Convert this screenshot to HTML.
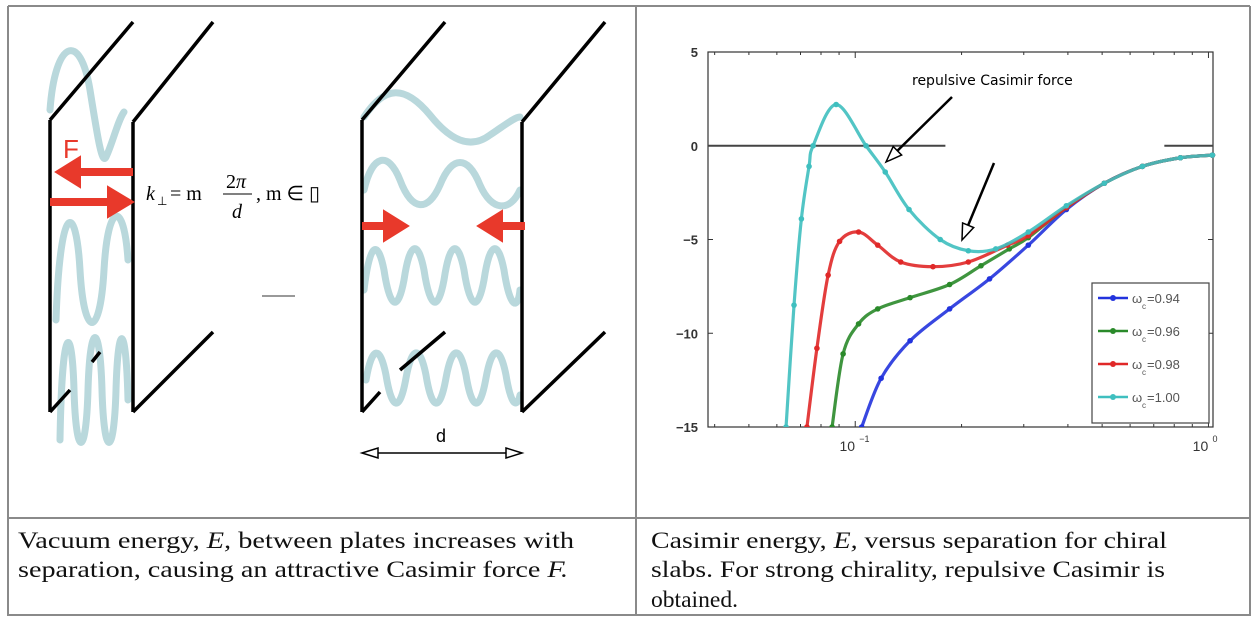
<!DOCTYPE html>
<html><head><meta charset="utf-8"><style>
html,body{margin:0;padding:0;background:#fff;width:1254px;height:630px;overflow:hidden}
svg{display:block}
</style></head><body>
<svg id="root" width="1254" height="630" viewBox="0 0 1254 630" xmlns="http://www.w3.org/2000/svg">
<g stroke="#8a8a8a" stroke-width="2" fill="none">
<path d="M8 6H1250M8 6V616M636 6V616M1250 6V616M8 518H1250M8 615H1250"/>
</g>
<g id="diagram">
<g stroke="#b9d8dc" stroke-width="7" fill="none" stroke-linecap="round">
<path d="M50 110C55 40 80 30 90 90C98 140 102 165 106 157C112 145 118 120 124 112"/>
<path d="M56 320C60 200 76 200 80 270C84 340 100 340 104 270C108 200 124 200 128 260"/>
<path d="M60 440C62 320 72 320 74 390C76 460 86 460 88 390C90 320 100 320 102 390C104 460 114 460 116 390C118 320 126 320 128 400"/>
<path d="M364 117C385 85 405 85 430 115C450 140 470 150 490 135C505 125 515 117 520 117"/>
<path d="M364 190C372 155 388 150 400 180C412 212 428 212 440 185C452 155 468 155 480 185C492 212 510 212 520 190"/>
<path d="M364 290C370 240 378 240 384 270C390 310 398 312 404 280C410 240 418 240 424 270C430 310 438 312 444 280C450 240 458 240 464 270C470 310 478 312 484 280C490 240 498 240 504 270C510 310 518 310 520 290"/>
<path d="M366 380C372 345 380 345 386 375C392 412 400 412 406 378C412 345 420 345 426 375C432 412 440 412 446 378C452 345 460 345 466 375C472 412 480 412 486 378C492 345 500 345 506 375C512 412 518 405 520 395"/>
</g>
<g stroke="#000" stroke-width="3.5" fill="none">
<path d="M50 120V412M133 122V412M50 120L133 22M133 122L213 22M50 412L70 390M133 412L213 332M92 362L100 352"/>
<path d="M362 120V412M522 122V412M362 120L445 22M522 122L605 22M362 412L380 392M400 370L445 332M522 412L605 332"/>
</g>
<g fill="#e8392b" stroke="#e8392b">
<path d="M133 172H72" stroke-width="8"/><path d="M56 172L80 157L80 187Z" stroke-width="2"/>
<path d="M50 202H112" stroke-width="8"/><path d="M133 202L108 187L108 217Z" stroke-width="2"/>
<path d="M362 226H392" stroke-width="8"/><path d="M408 226L384 211L384 241Z" stroke-width="2"/>
<path d="M525 226H495" stroke-width="8"/><path d="M478 226L502 211L502 241Z" stroke-width="2"/>
</g>
<text x="63" y="158" font-family="Liberation Sans, sans-serif" font-size="26" fill="#e8392b">F</text>
<g font-family="Liberation Serif, serif" font-style="italic" font-size="20" fill="#000">
<text x="146" y="200">k</text><text x="157" y="205" font-size="12" font-style="normal">⊥</text>
<text x="170" y="200" font-style="normal">= m</text>
<text x="226" y="188" font-style="normal">2<tspan font-style="italic">π</tspan></text>
<line x1="223" y1="194" x2="252" y2="194" stroke="#000" stroke-width="1"/>
<text x="232" y="218">d</text>
<text x="256" y="200" font-style="normal">,  m ∈ ▯</text>
</g>
<line x1="262" y1="296" x2="295" y2="296" stroke="#999" stroke-width="2"/>
<text x="436" y="442" font-family="Liberation Sans, sans-serif" font-size="18">d</text>
<g stroke="#000" stroke-width="1.5" fill="#fff">
<line x1="368" y1="453" x2="516" y2="453"/>
<path d="M362 453L378 448L378 458Z"/><path d="M522 453L506 448L506 458Z"/>
</g>
</g>
<g id="chart"></g>
<g font-family="Liberation Serif, serif" font-size="23" fill="#111">
<text x="18" y="548" textLength="556" lengthAdjust="spacingAndGlyphs">Vacuum energy, <tspan font-style="italic">E,</tspan> between plates increases with</text>
<text x="18" y="577" textLength="550" lengthAdjust="spacingAndGlyphs">separation, causing an attractive Casimir force <tspan font-style="italic">F.</tspan></text>
<text x="651" y="548" textLength="516" lengthAdjust="spacingAndGlyphs">Casimir energy, <tspan font-style="italic">E,</tspan> versus separation for chiral</text>
<text x="651" y="577" textLength="514" lengthAdjust="spacingAndGlyphs">slabs. For strong chirality, repulsive Casimir is</text>
<text x="651" y="607" textLength="87" lengthAdjust="spacingAndGlyphs">obtained.</text>
</g>
</svg>
<script>
const seriesLabels = ["ω=0.94","ω=0.96","ω=0.98","ω=1.00"];
const seriesColors = ["#2233dd","#2a8a2a","#e02828","#3fbfbf"];
const xBlue = [0.1043,0.1184,0.143,0.185,0.240,0.309,0.396,0.507,0.650,0.833,1.026];
const yBlue = [-15,-12.4,-10.4,-8.7,-7.1,-5.3,-3.4,-2.0,-1.1,-0.64,-0.5];
const xGreen = [0.0860,0.0924,0.1022,0.1158,0.143,0.185,0.227,0.273,0.309,0.396,0.507,0.650,0.833,1.026];
const yGreen = [-15,-11.1,-9.5,-8.7,-8.1,-7.4,-6.4,-5.5,-4.9,-3.3,-2.0,-1.1,-0.64,-0.5];
const xRed = [0.0730,0.0779,0.0838,0.0903,0.1022,0.1158,0.1345,0.166,0.209,0.270,0.309,0.396,0.507,0.650,0.833,1.026];
const yRed = [-15,-10.8,-6.9,-5.1,-4.6,-5.3,-6.2,-6.45,-6.2,-5.3,-4.8,-3.3,-2.0,-1.1,-0.64,-0.5];
const xCyan = [0.0637,0.0671,0.0704,0.0740,0.0760,0.0883,0.1073,0.1216,0.142,0.174,0.209,0.250,0.309,0.396,0.507,0.650,0.833,1.026];
const yCyan = [-15,-8.5,-3.9,-1.1,0,2.2,0,-1.4,-3.4,-5.0,-5.6,-5.5,-4.6,-3.2,-2.0,-1.1,-0.64,-0.5];
const yTicks = [5,0,-5,-10,-15];
const xTicks = [0.1,1];
const xTickLabels = ["10","10"];
const xTickExp = ["−1","0"];
const legendLabels = ["=0.94","=0.96","=0.98","=1.00"];

const NS="http://www.w3.org/2000/svg";
const chart=document.getElementById('chart');
const L=708,R=1213,T=52,B=427;
const xmin=0.0383,xmax=1.03,ymin=-15,ymax=5;
function sx(x){return L+(Math.log10(x)-Math.log10(xmin))/(Math.log10(xmax)-Math.log10(xmin))*(R-L);}
function sy(y){return B-(y-ymin)/(ymax-ymin)*(B-T);}
function mk(tag,attrs,parent){const e=document.createElementNS(NS,tag);for(const k in attrs)e.setAttribute(k,attrs[k]);(parent||chart).appendChild(e);return e;}

const defs=mk('defs',{});
const cp=mk('clipPath',{id:'plotclip'},defs);
mk('rect',{x:L,y:T-4,width:R-L+4,height:B-T+4},cp);

const frame=mk('rect',{x:L,y:T,width:R-L,height:B-T,fill:'none',stroke:'#333','stroke-width':1.2});



yTicks.forEach(v=>{
  const t=mk('text',{x:L-10,y:sy(v)+5,'text-anchor':'end','font-family':'Liberation Sans, sans-serif','font-size':13,'font-weight':'bold',fill:'#333'});
  t.textContent=String(v).replace('-','−');
  
  
  mk('line',{x1:L,x2:L+5,y1:sy(v),y2:sy(v),stroke:'#333'});
  mk('line',{x1:R,x2:R-5,y1:sy(v),y2:sy(v),stroke:'#333'});
});
for(let d=-2;d<=0;d++){for(let m=1;m<10;m++){const v=m*Math.pow(10,d);if(v<xmin||v>xmax)continue;const len=m===1?6:3;
  mk('line',{x1:sx(v),x2:sx(v),y1:B,y2:B-len,stroke:'#333'});mk('line',{x1:sx(v),x2:sx(v),y1:T,y2:T+len,stroke:'#333'});}}
xTicks.forEach((v,i)=>{
  const t=mk('text',{x:sx(v)-8,y:B+24,'text-anchor':'middle','font-family':'Liberation Sans, sans-serif','font-size':14,fill:'#333'});
  t.textContent=xTickLabels[i];
  
  
  const e=mk('text',{x:sx(v)+4,y:B+15,'font-family':'Liberation Sans, sans-serif','font-size':9,fill:'#333'});
  e.textContent=xTickExp[i];
});
const z1=mk('line',{x1:L,x2:sx(0.18),y1:sy(0),y2:sy(0),stroke:'#444','stroke-width':2});


const z2=mk('line',{x1:sx(0.75),x2:R,y1:sy(0),y2:sy(0),stroke:'#444','stroke-width':2});



function smoothPath(pts){let d='M'+pts[0][0]+' '+pts[0][1];for(let i=0;i<pts.length-1;i++){const p0=pts[i-1]||pts[i],p1=pts[i],p2=pts[i+1],p3=pts[i+2]||p2;
  d+=` C${p1[0]+(p2[0]-p0[0])/6} ${p1[1]+(p2[1]-p0[1])/6} ${p2[0]-(p3[0]-p1[0])/6} ${p2[1]-(p3[1]-p1[1])/6} ${p2[0]} ${p2[1]}`;}return d;}
const allX=[xBlue,xGreen,xRed,xCyan],allY=[yBlue,yGreen,yRed,yCyan];
const plotG=mk('g',{'clip-path':'url(#plotclip)'});
allX.forEach((xs,s)=>{
  const pts=xs.map((x,i)=>[sx(x),sy(allY[s][i])]);
  const p=mk('path',{d:smoothPath(pts),fill:'none',stroke:seriesColors[s],'stroke-width':3.2,opacity:0.9},plotG);
  
  
  pts.forEach(pt=>{const c=mk('circle',{cx:pt[0],cy:pt[1],r:2.8,fill:seriesColors[s]},plotG);
    
    });
});

const ann=mk('text',{x:912,y:85,'font-family':'DejaVu Sans, sans-serif','font-size':14,fill:'#000'});
ann.textContent='repulsive Casimir force';


function arrow(x1,y1,x2,y2,name){const g=mk('g',{});
  
  
  const a=Math.atan2(y2-y1,x2-x1),hl=16,hw=6;const bx=x2-hl*Math.cos(a),by=y2-hl*Math.sin(a);
  mk('line',{x1:x1,y1:y1,x2:bx,y2:by,stroke:'#000','stroke-width':2.5},g);
  mk('path',{d:`M${x2} ${y2}L${bx+hw*Math.sin(a)} ${by-hw*Math.cos(a)}L${bx-hw*Math.sin(a)} ${by+hw*Math.cos(a)}Z`,fill:'#fff',stroke:'#000','stroke-width':1.5},g);}
arrow(952,97,886,162,'annotation-arrow-1');
arrow(994,163,962,240,'annotation-arrow-2');

const lg=mk('g',{});


mk('rect',{x:1092,y:283,width:117,height:140,fill:'#fff',stroke:'#444','stroke-width':1.2},lg);
legendLabels.forEach((lab,i)=>{const y=298+i*33;
  const e=mk('g',{},lg);
  
  
  mk('line',{x1:1098,x2:1128,y1:y,y2:y,stroke:seriesColors[i],'stroke-width':2.5},e);
  mk('circle',{cx:1113,cy:y,r:3,fill:seriesColors[i]},e);
  const t=mk('text',{x:1132,y:y+5,'font-family':'Liberation Sans, sans-serif','font-size':13,fill:'#555'},e);
  t.textContent='ω';
  const s=mk('text',{x:1142,y:y+11,'font-family':'Liberation Sans, sans-serif','font-size':8,fill:'#555'},e);
  s.textContent='c';
  const t2=mk('text',{x:1147,y:y+5,'font-family':'Liberation Sans, sans-serif','font-size':13,fill:'#555'},e);
  t2.textContent=lab;
});
</script>
</body></html>
